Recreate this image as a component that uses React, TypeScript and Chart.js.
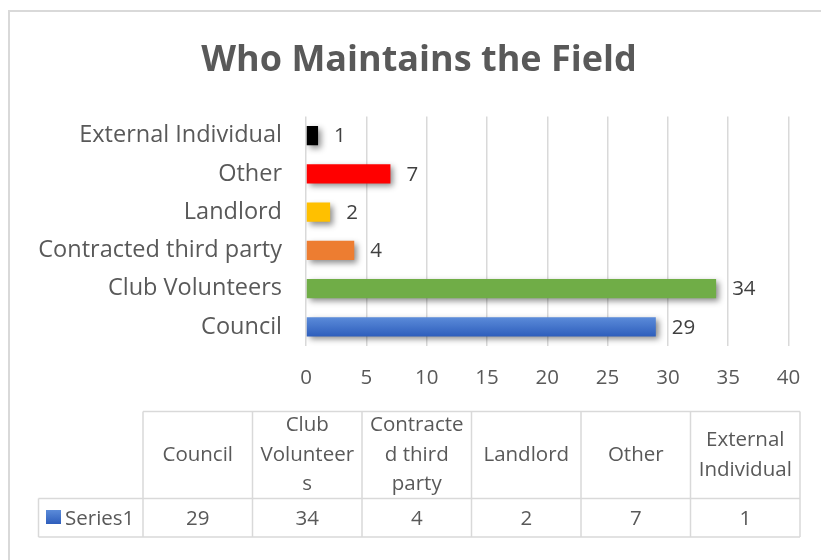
import React, { useEffect, useRef } from "react";
import { Chart, registerables } from "chart.js";

Chart.register(...registerables);

const chartTitle = "Who Maintains the Field";
const categories = [
  "Council",
  "Club Volunteers",
  "Contracted third party",
  "Landlord",
  "Other",
  "External Individual",
];
const values = [29, 34, 4, 2, 7, 1];
const barColors = ["#4472C4", "#70AD47", "#ED7D31", "#FFC000", "#FF0000", "#000000"];
const seriesName = "Series1";
const tableHeaderLines = [
  ["Council"],
  ["Club", "Volunteer", "s"],
  ["Contracte", "d third", "party"],
  ["Landlord"],
  ["Other"],
  ["External", "Individual"],
];
const xMin = 0;
const xMax = 40;
const xStep = 5;

const FONT = "'Open Sans', sans-serif";
const TEXT = "#595959";
const LABEL = "#404040";
const GRID = "#d9d9d9";

const shadowAndLabels = {
  id: "shadowAndLabels",
  beforeDatasetsDraw(chart: any) {
    const ctx = chart.ctx;
    ctx.save();
    ctx.shadowColor = "rgba(0,0,0,0.45)";
    ctx.shadowBlur = 6;
    ctx.shadowOffsetX = 3;
    ctx.shadowOffsetY = 3;
  },
  afterDatasetsDraw(chart: any) {
    const ctx = chart.ctx;
    ctx.restore();
    const meta = chart.getDatasetMeta(0);
    ctx.save();
    ctx.font = `20.5px ${FONT}`;
    ctx.fillStyle = LABEL;
    ctx.textAlign = "left";
    ctx.textBaseline = "middle";
    meta.data.forEach((bar: any, i: number) => {
      ctx.fillText(String(values[i]), bar.x + 16, bar.y + 1);
    });
    ctx.restore();
  },
};

const titleAndTable = {
  id: "titleAndTable",
  afterDraw(chart: any) {
    const ctx = chart.ctx;
    ctx.save();
    // chart outer border
    ctx.strokeStyle = GRID;
    ctx.lineWidth = 2;
    ctx.beginPath();
    ctx.moveTo(9, 560);
    ctx.lineTo(9, 11);
    ctx.lineTo(821, 11);
    ctx.stroke();

    // title
    ctx.font = `bold 36px ${FONT}`;
    ctx.fillStyle = TEXT;
    ctx.textAlign = "center";
    ctx.textBaseline = "middle";
    ctx.fillText(chartTitle, 419, 61);

    const n = categories.length;
    const x0 = 143;
    const colW = 109.5;
    const right = x0 + colW * n;
    const top = 411.5;
    const mid = 498.5;
    const bot = 537;
    const keyLeft = 38.5;

    ctx.strokeStyle = GRID;
    ctx.lineWidth = 1.5;
    ctx.beginPath();
    ctx.moveTo(x0, top);
    ctx.lineTo(right, top);
    ctx.moveTo(keyLeft, mid);
    ctx.lineTo(right, mid);
    ctx.moveTo(keyLeft, bot);
    ctx.lineTo(right, bot);
    ctx.moveTo(keyLeft, mid);
    ctx.lineTo(keyLeft, bot);
    for (let i = 0; i <= n; i++) {
      const x = x0 + colW * i;
      ctx.moveTo(x, top);
      ctx.lineTo(x, bot);
    }
    ctx.stroke();

    ctx.font = `20.5px ${FONT}`;
    ctx.fillStyle = TEXT;
    ctx.textAlign = "center";
    ctx.textBaseline = "middle";
    const lh = 29.5;
    const hc = (top + mid) / 2;
    tableHeaderLines.forEach((lines, i) => {
      const cx = x0 + colW * (i + 0.5);
      const start = hc - ((lines.length - 1) * lh) / 2;
      lines.forEach((ln, j) => ctx.fillText(ln, cx, start + j * lh));
    });
    const rc = (mid + bot) / 2 + 1;
    values.forEach((v, i) => {
      ctx.fillText(String(v), x0 + colW * (i + 0.5), rc);
    });

    // legend key
    const g = ctx.createLinearGradient(0, 510, 0, 524);
    g.addColorStop(0, "#5B8BD9");
    g.addColorStop(1, "#2E5EBC");
    ctx.fillStyle = g;
    ctx.fillRect(46, 510, 15, 14);
    ctx.fillStyle = TEXT;
    ctx.textAlign = "left";
    ctx.fillText(seriesName, 65, rc);
    ctx.restore();
  },
};

export default function App() {
  const ref = useRef<HTMLCanvasElement | null>(null);
  useEffect(() => {
    if (!ref.current) return;
    const chart = new Chart(ref.current, {
      type: "bar",
      data: {
        labels: categories,
        datasets: [
          {
            label: seriesName,
            data: values,
            backgroundColor: (c: any) => {
              const i = c.dataIndex;
              if (i === undefined) return barColors[0];
              if (i !== 0) return barColors[i];
              const ys = c.chart.scales && c.chart.scales.y;
              if (!ys || ys.top === undefined) return barColors[0];
              const cy = ys.getPixelForValue(i);
              const half = Math.abs(ys.getPixelForValue(1) - ys.getPixelForValue(0)) * 0.25;
              const g = c.chart.ctx.createLinearGradient(0, cy - half, 0, cy + half);
              g.addColorStop(0, "#5B8BD9");
              g.addColorStop(1, "#2E5EBC");
              return g;
            },
            borderWidth: 0,
            barPercentage: 0.5,
            categoryPercentage: 1,
          },
        ],
      },
      options: {
        indexAxis: "y",
        animation: false,
        responsive: false,
        events: [],
        layout: { padding: { left: 0, right: 32.5, top: 116.5, bottom: 169.7 } },
        plugins: {
          legend: { display: false },
          tooltip: { enabled: false },
          title: { display: false },
        },
        scales: {
          x: {
            min: xMin,
            max: xMax,
            ticks: {
              stepSize: xStep,
              color: TEXT,
              font: { family: FONT, size: 20.5 },
              padding: 20,
              maxRotation: 0,
            },
            grid: { color: GRID, lineWidth: 1.5, drawTicks: false },
            border: { display: false },
            afterFit: (s: any) => {
              s.height = 44.3;
            },
          },
          y: {
            reverse: true,
            ticks: {
              color: TEXT,
              font: { family: FONT, size: 23.5 },
              padding: 24,
            },
            grid: { display: false, drawTicks: false },
            border: { display: false },
            afterFit: (s: any) => {
              s.width = 306;
            },
          },
        },
      } as any,
      plugins: [shadowAndLabels, titleAndTable],
    });
    return () => chart.destroy();
  }, []);
  return (
    <div style={{ position: "fixed", left: 0, top: 0, width: 821, height: 560, background: "#fff" }}>
      <canvas ref={ref} width={821} height={560} style={{ display: "block", width: 821, height: 560 }} />
    </div>
  );
}
